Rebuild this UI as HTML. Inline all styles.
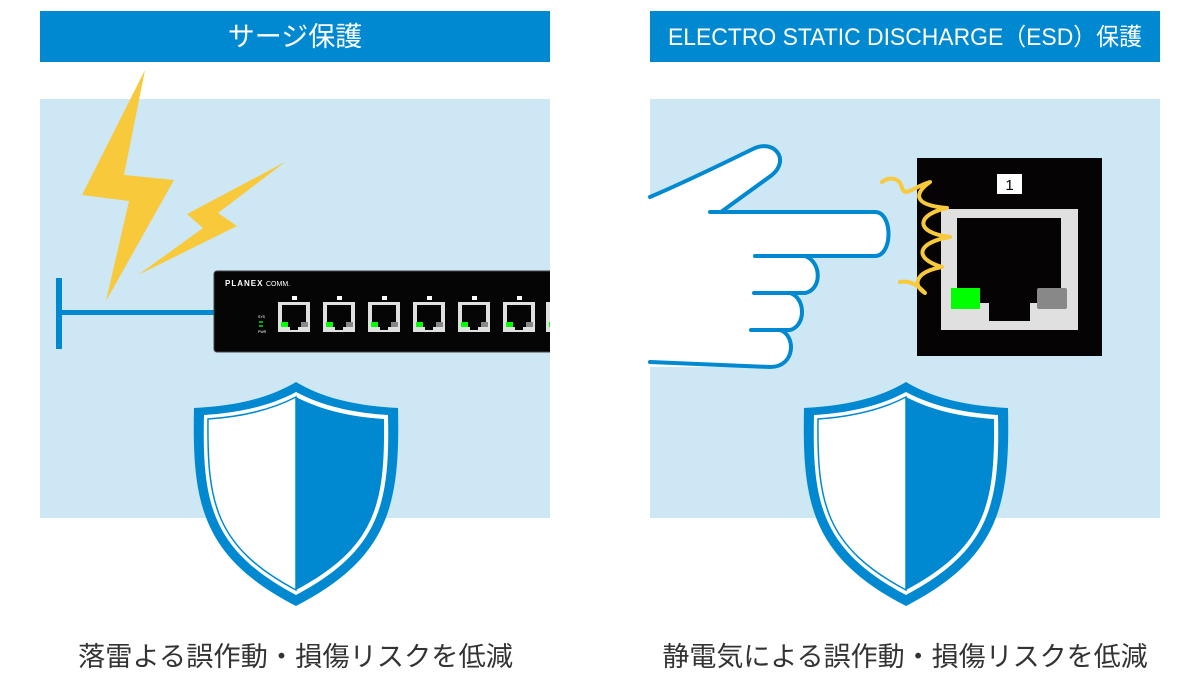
<!DOCTYPE html>
<html><head><meta charset="utf-8"><style>
html,body{margin:0;padding:0;background:#fff;width:1200px;height:674px;overflow:hidden}
svg{display:block}
text{font-family:"Liberation Sans","Noto Sans CJK JP",sans-serif}
</style></head><body>
<svg width="1200" height="674" viewBox="0 0 1200 674" xmlns="http://www.w3.org/2000/svg">
<defs>
<clipPath id="lp"><rect x="40" y="60" width="510" height="470"/></clipPath>
<g id="shield">
<path d="M0,0 C-30,18 -65,24 -102,26 C-104,120 -95,175 0,224 C95,175 104,120 102,26 C65,24 30,18 0,0Z" fill="#0089d0"/>
<path d="M0,10 C-28,25 -60,31 -92,33 C-94,120 -85,168 0,213 C85,168 94,120 92,33 C60,31 28,25 0,10Z" fill="#fff"/>
<path d="M0,15 C-27,29 -57,35 -88,37 C-89,120 -81,165 0,208 Z" fill="#fff" stroke="#0089d0" stroke-width="1.5"/>
<path d="M0,15 C27,29 57,35 88,37 C89,120 81,165 0,208 Z" fill="#0089d0"/>
</g>
<g id="port">
<rect x="0" y="0" width="32" height="30" fill="#e0e0e0"/>
<path d="M4,3 H28 V22 H24 V25 H20 V28 H12 V25 H8 V22 H4Z" fill="#050505"/>
<rect x="3" y="20" width="7" height="5" fill="#0f0"/>
<rect x="23" y="20" width="7" height="5" fill="#888"/>
</g>
</defs>

<rect x="40" y="11" width="510" height="51" fill="#0089d0"/>
<rect x="650" y="11" width="510" height="51" fill="#0089d0"/>
<text x="295" y="46" font-size="27" fill="#fff" text-anchor="middle">サージ保護</text>
<text x="668" y="45" font-size="24" fill="#fff" textLength="474" lengthAdjust="spacingAndGlyphs">ELECTRO STATIC DISCHARGE（ESD）保護</text>

<rect x="40" y="99" width="510" height="419" fill="#cde7f5"/>
<rect x="650" y="99" width="510" height="419" fill="#cde7f5"/>

<polygon points="145,70 82,195 129,201 106,301 174,180 124,175" fill="#f8c93a"/>
<polygon points="285,162 187,214 203,228 138,275 237,226 218,213" fill="#f8c93a"/>
<rect x="56" y="278" width="6" height="71" fill="#0089d0"/>
<rect x="60" y="310" width="160" height="5" fill="#0089d0"/>
<g clip-path="url(#lp)">
<rect x="214" y="271" width="345" height="81" rx="3" fill="#050505" stroke="#444" stroke-width="1"/>
<text x="225" y="286" font-size="8" fill="#fff" font-weight="bold" letter-spacing="1">PLANEX</text>
<text x="266" y="286" font-size="7" fill="#fff">COMM.</text>
<text x="258" y="318" font-size="3.5" fill="#fff">SYS</text>
<rect x="259" y="321" width="4" height="2" fill="#0a0"/>
<rect x="259" y="325" width="4" height="2" fill="#0a0"/>
<text x="258" y="333" font-size="3.5" fill="#fff">PWR</text>
<use href="#port" x="278" y="302"/><rect x="292" y="296" width="5" height="4" fill="#fff"/>
<use href="#port" x="323" y="302"/><rect x="337" y="296" width="5" height="4" fill="#fff"/>
<use href="#port" x="368" y="302"/><rect x="382" y="296" width="5" height="4" fill="#fff"/>
<use href="#port" x="413" y="302"/><rect x="427" y="296" width="5" height="4" fill="#fff"/>
<use href="#port" x="458" y="302"/><rect x="472" y="296" width="5" height="4" fill="#fff"/>
<use href="#port" x="503" y="302"/><rect x="517" y="296" width="5" height="4" fill="#fff"/>
<use href="#port" x="546" y="302"/>
</g>
<use href="#shield" x="296" y="382"/>

<path d="M650,197 C690,180 730,160 755,148 C775,140 790,160 772,175 L721,212 L875,212 C893,212 893,256 875,256 L805,256 C822,262 822,290 805,293 L790,293 C806,298 806,326 790,330 L780,330 C796,335 796,367 770,367 L650,367 Z" fill="#fff"/>
<path d="M650,197 C690,180 730,160 755,148 C775,140 790,160 772,175 L721,212 M710,212 L875,212 C893,212 893,256 875,256 L755,256 M755,256 L805,256 C822,262 822,290 805,293 L754,293 M754,293 L790,293 C806,298 806,326 790,330 L751,330 M751,330 L780,330 C796,335 796,367 770,367 L650,362" fill="none" stroke="#0089d0" stroke-width="4" stroke-linecap="round" stroke-linejoin="round"/>
<rect x="917" y="158" width="185" height="198" fill="#050303"/>
<rect x="997" y="174" width="25" height="20" fill="#fff"/>
<text x="1009.5" y="190" font-size="15" fill="#000" text-anchor="middle">1</text>
<rect x="941" y="209" width="137" height="121" fill="#e0e0e0"/>
<path d="M957,218 H1061 V303 H1030 V321 H989 V303 H957Z" fill="#050303"/>
<rect x="951" y="288" width="29" height="21" fill="#0f0"/>
<rect x="1037" y="288" width="30" height="21" rx="2" fill="#888"/>
<path d="M882,182 C890,176 900,178 902,188 C905,198 915,186 930,182 C916,192 910,205 947,208 C918,214 912,232 950,237 C918,242 912,258 942,267 C915,272 912,285 925,293 C918,285 910,280 900,282" fill="none" stroke="#f8c93a" stroke-width="4" stroke-linecap="round" stroke-linejoin="round"/>
<use href="#shield" x="906" y="382"/>

<text x="78" y="666" font-size="27" fill="#333" textLength="435" lengthAdjust="spacingAndGlyphs">落雷よる誤作動・損傷リスクを低減</text>
<text x="905" y="666" font-size="27" fill="#333" text-anchor="middle">静電気による誤作動・損傷リスクを低減</text>
</svg>
</body></html>
